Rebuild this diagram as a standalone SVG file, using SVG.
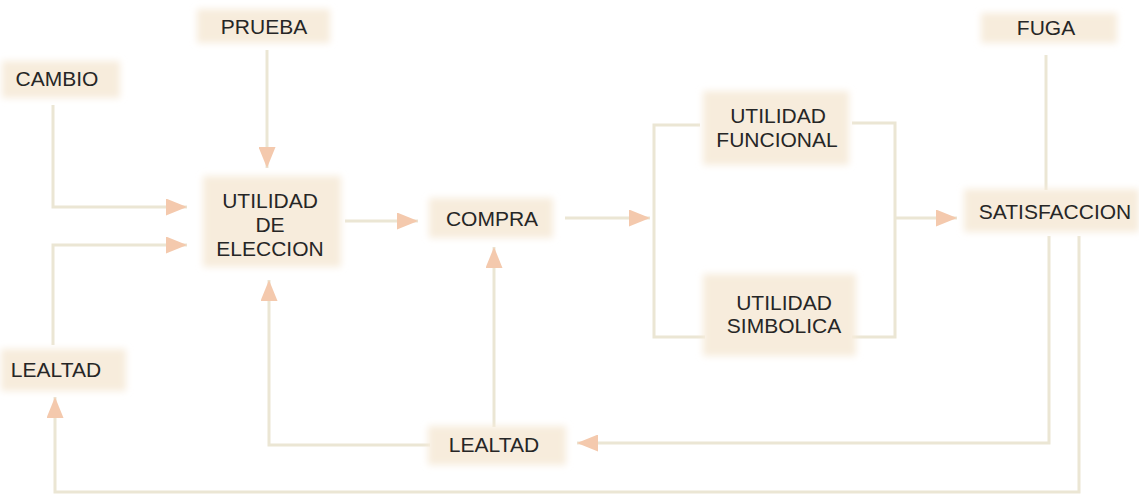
<svg xmlns="http://www.w3.org/2000/svg" width="1139" height="497" viewBox="0 0 1139 497">
<defs>
<style>
.box{fill:#f7ecdc;filter:url(#soft)}
.t{font-family:"Liberation Sans",Arial,sans-serif;font-size:21px;fill:#262626;text-anchor:middle}
.c{fill:none;stroke:#ebe6d4;stroke-width:3}
.a{marker-end:url(#arr)}
</style>
<filter id="soft" x="-20%" y="-30%" width="140%" height="160%">
<feGaussianBlur stdDeviation="3.5"/>
</filter>
<marker id="arr" viewBox="0 0 21 17" refX="21" refY="8.5" markerWidth="21" markerHeight="17" markerUnits="userSpaceOnUse" orient="auto">
<path d="M0,0 L21,8.5 L0,17 z" fill="#f4c9ad"/>
</marker>
</defs>
<rect width="1139" height="497" fill="#ffffff"/>
<g id="connectors">
<path class="c a" d="M267,50 V168"/>
<path class="c a" d="M53,105 V207 H187"/>
<path class="c a" d="M53,345 V245 H187"/>
<path class="c a" d="M345,221 H418"/>
<path class="c a" d="M565,218 H650"/>
<path class="c" d="M700,125 H654 V337 H705"/>
<path class="c" d="M852,123 H895 V337 H852"/>
<path class="c a" d="M895,218 H957"/>
<path class="c" d="M1046,55 V190"/>
<path class="c a" d="M1049,236 V443 H577"/>
<path class="c a" d="M1079,236 V492 H55 V397"/>
<path class="c a" d="M494,427 V247"/>
<path class="c a" d="M430,445 H269 V280"/>
</g>
<g id="prueba"><rect class="box" x="197" y="9" width="133" height="34"/><text class="t" x="264" y="34">PRUEBA</text></g>
<g id="cambio"><rect class="box" x="2" y="61" width="118" height="37"/><text class="t" x="57" y="86">CAMBIO</text></g>
<g id="utilidad-eleccion"><rect class="box" x="203" y="176" width="138" height="91"/><text class="t" x="270" y="208">UTILIDAD</text><text class="t" x="270" y="232">DE</text><text class="t" x="270" y="256">ELECCION</text></g>
<g id="compra"><rect class="box" x="429" y="198" width="124" height="40"/><text class="t" x="492" y="226">COMPRA</text></g>
<g id="utilidad-funcional"><rect class="box" x="703" y="91" width="146" height="74"/><text class="t" x="778" y="123">UTILIDAD</text><text class="t" x="777" y="147">FUNCIONAL</text></g>
<g id="utilidad-simbolica"><rect class="box" x="703" y="274" width="153" height="82"/><text class="t" x="784" y="310">UTILIDAD</text><text class="t" x="784" y="333">SIMBOLICA</text></g>
<g id="satisfaccion"><rect class="box" x="964" y="189" width="175" height="43"/><text class="t" x="1055" y="219">SATISFACCION</text></g>
<g id="fuga"><rect class="box" x="981" y="13" width="136" height="30"/><text class="t" x="1046" y="35">FUGA</text></g>
<g id="lealtad-izq"><rect class="box" x="1" y="349" width="125" height="42"/><text class="t" x="56" y="377">LEALTAD</text></g>
<g id="lealtad-inf"><rect class="box" x="428" y="426" width="138" height="39"/><text class="t" x="494" y="452">LEALTAD</text></g>
</svg>
